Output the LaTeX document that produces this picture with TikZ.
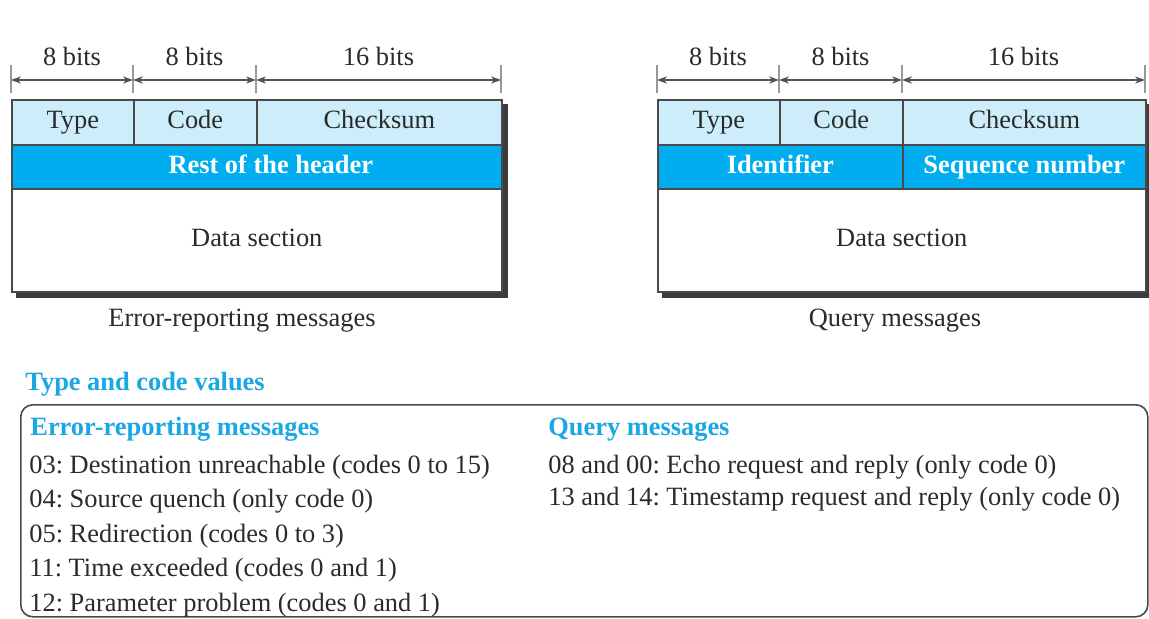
\documentclass[tikz,border=0pt]{standalone}
\usepackage{fontspec}
\setmainfont{Liberation Serif}
\usetikzlibrary{arrows.meta,backgrounds,calc}
\definecolor{hdrlight}{HTML}{CDEDFA}
\definecolor{hdrdark}{HTML}{00AEEF}
\definecolor{headblue}{HTML}{1AA7E4}
\definecolor{framegray}{HTML}{4A4A4A}
\definecolor{shadegray}{HTML}{3C3C3C}
\definecolor{textgray}{HTML}{2A2A2A}
\frenchspacing

\begin{document}
\begin{tikzpicture}[x=0.5pt, y=-0.5pt,
  every node/.style={font=\fontsize{13.2}{15}\selectfont, text=textgray},
  cell/.style={draw=framegray, line width=0.8pt, anchor=north west, inner sep=0pt,
               minimum height=22.5pt, text height=9pt, text depth=2.5pt},
  light/.style={cell, fill=hdrlight},
  dark/.style={cell, fill=hdrdark, text=white, font=\fontsize{13.2}{15}\selectfont\bfseries,
               minimum height=22pt},
  datacell/.style={cell, fill=white, minimum height=51.5pt},
  tickline/.style={draw=gray!80, line width=1.1pt},
  dimarrow/.style={{Stealth[length=5pt,width=3.6pt]}-{Stealth[length=5pt,width=3.6pt]},
                   draw=gray!65!black, line width=0.7pt},
  bitlabel/.style={above=5pt, inner sep=2pt},
  caption/.style={inner sep=0pt, text height=9pt, text depth=2.5pt},
  title/.style={anchor=base west, inner sep=0pt, text=headblue,
                font=\fontsize{13.2}{15}\selectfont\bfseries},
  panel/.style={draw=framegray, line width=0.8pt, rounded corners=6pt, anchor=north west,
                inner sep=0pt},
  item/.style={anchor=base west, inner sep=0pt},
]
\useasboundingbox (0,0) rectangle (1149,618);

%% Error-reporting message format
\node[light, minimum width=61pt]    (type1) at (11,99)  {Type};
\node[light, minimum width=61.5pt]  (code1) at (133,99) {Code};
\node[light, minimum width=122.5pt] (csum1) at (256,99) {Checksum};
\node[dark, minimum width=245pt]    (rest1) at (11,144) {\hspace*{14pt}Rest of the header};
\node[datacell, minimum width=245pt] (data1) at (11,188) {Data section};

%% Query message format
\node[light, minimum width=61pt]    (type2) at (657,99) {Type};
\node[light, minimum width=61.5pt]  (code2) at (779,99) {Code};
\node[light, minimum width=121.5pt] (csum2) at (902,99) {Checksum};
\node[dark, minimum width=122.5pt]  (ident) at (657,144) {Identifier};
\node[dark, minimum width=121.5pt]  (seqno) at (902,144) {Sequence number};
\node[datacell, minimum width=244pt] (data2) at (657,188) {Data section};

%% shadows
\begin{scope}[on background layer]
  \fill[shadegray] ($(type1.north west)+(5,5)$) rectangle ($(data1.south east)+(5,5)$);
  \fill[shadegray] ($(type2.north west)+(5,5)$) rectangle ($(data2.south east)+(5,5)$);
\end{scope}

%% field widths
\foreach \x/\n in {11/a,133/b,256/c,501/d,657/e,779/f,902/g,1145/h} {
  \coordinate (L\n) at (\x,80);
  \draw[tickline] (\x,65) -- (\x,93);
}
\draw[dimarrow] (La) -- node[bitlabel] {8 bits} (Lb);
\draw[dimarrow] (Lb) -- node[bitlabel] {8 bits} (Lc);
\draw[dimarrow] (Lc) -- node[bitlabel] {16 bits} (Ld);
\draw[dimarrow] (Le) -- node[bitlabel] {8 bits} (Lf);
\draw[dimarrow] (Lf) -- node[bitlabel] {8 bits} (Lg);
\draw[dimarrow] (Lg) -- node[bitlabel] {16 bits} (Lh);

%% captions
\node[caption] (cap1) at (242,320) {Error-reporting messages};
\node[caption] (cap2) at (895,320) {Query messages};

%% Type and code values
\node[title] (values) at (25,390) {Type and code values};
\node[panel, minimum width=563.5pt, minimum height=106pt] (table) at (20,404) {};

\node[title] (errhead) at (30,435) {Error-reporting messages};
\foreach \t [count=\i] in {03: Destination unreachable (codes 0 to 15),
    04: Source quench (only code 0), 05: Redirection (codes 0 to 3),
    11: Time exceeded (codes 0 and 1), 12: Parameter problem (codes 0 and 1)}
  \node[item] (err\i) at (29,{438.5+34.5*\i}) {\t};

\node[title] (qryhead) at (548,435) {Query messages};
\foreach \t [count=\i] in {08 and 00: Echo request and reply (only code 0),
    13 and 14: Timestamp request and reply (only code 0)}
  \node[item] (qry\i) at (548,{441+32*\i}) {\t};

\end{tikzpicture}
\end{document}
